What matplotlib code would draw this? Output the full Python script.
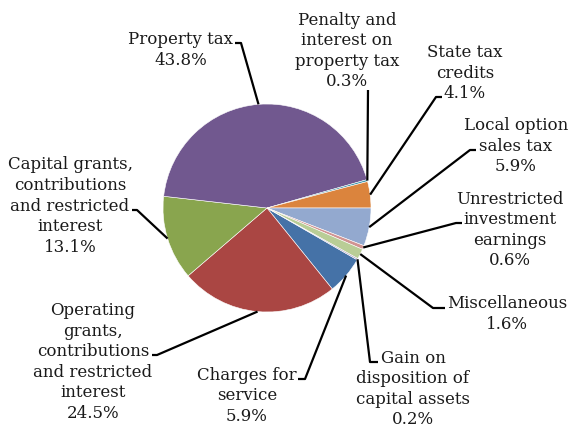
import matplotlib.pyplot as plt
import numpy as np

W, H = 571, 428

# categories in drawing order (clockwise), values in percent
names = ['Charges for\nservice',
         'Operating\ngrants,\ncontributions\nand restricted\ninterest',
         'Capital grants,\ncontributions\nand restricted\ninterest',
         'Property tax',
         'Penalty and\ninterest on\nproperty tax',
         'State tax\ncredits',
         'Local option\nsales tax',
         'Unrestricted\ninvestment\nearnings',
         'Miscellaneous',
         'Gain on\ndisposition of\ncapital assets']
values = [5.9, 24.5, 13.1, 43.8, 0.3, 4.1, 5.9, 0.6, 1.6, 0.2]
colors = ['#4572A7', '#AA4643', '#89A54E', '#71588F', '#4198AF',
          '#DB843D', '#93A9CF', '#D19392', '#B9CD96', '#A99BBD']

# label centres and leader start points, in image pixels (y down)
label_pos = [(247, 396), (93, 362), (70, 206), (181, 50), (347, 51),
             (465, 73), (516, 146), (510, 230), (507, 314), (413, 389)]
leader_pts = [[(298, 379), (305, 379)],
              [(152, 355), (157, 355)],
              [(132, 210), (137, 210)],
              [(235, 43), (241, 43)],
              [(368, 90)],
              [(442, 97), (436, 97)],
              [(476, 150), (470, 150)],
              [(462, 223), (456, 223)],
              [(445, 308), (433, 308)],
              [(378, 362), (370, 362)]]

fig = plt.figure(figsize=(W / 100, H / 100), dpi=100)
ax = fig.add_axes([0, 0, 1, 1])

cx, cy, r = 267, H - 208, 104
# first wedge starts so that State tax credits ends at 3 o'clock
start = sum(values[:6]) * 3.6
wedges, _ = ax.pie(values, colors=colors, startangle=start, counterclock=False,
                   center=(cx, cy), radius=r,
                   wedgeprops=dict(linewidth=0.4, edgecolor='white'))
ax.set_xlim(0, W)
ax.set_ylim(0, H)
ax.set_aspect('equal')
ax.axis('off')

for w, name, val, (tx, ty), pts in zip(wedges, names, values, label_pos, leader_pts):
    mid = np.deg2rad((w.theta1 + w.theta2) / 2)
    px = cx + r * np.cos(mid)
    py = cy + r * np.sin(mid)
    xs = [p[0] for p in pts] + [px]
    ys = [H - p[1] for p in pts] + [py]
    ax.plot(xs, ys, color='black', lw=1.6, solid_capstyle='butt')
    ax.text(tx, H - ty, f'{name}\n{val:.1f}%', ha='center', va='center',
            ma='center', fontsize=12, family='DejaVu Serif', color='#1a1a1a',
            linespacing=1.27)

plt.savefig('out.png', dpi=100)
